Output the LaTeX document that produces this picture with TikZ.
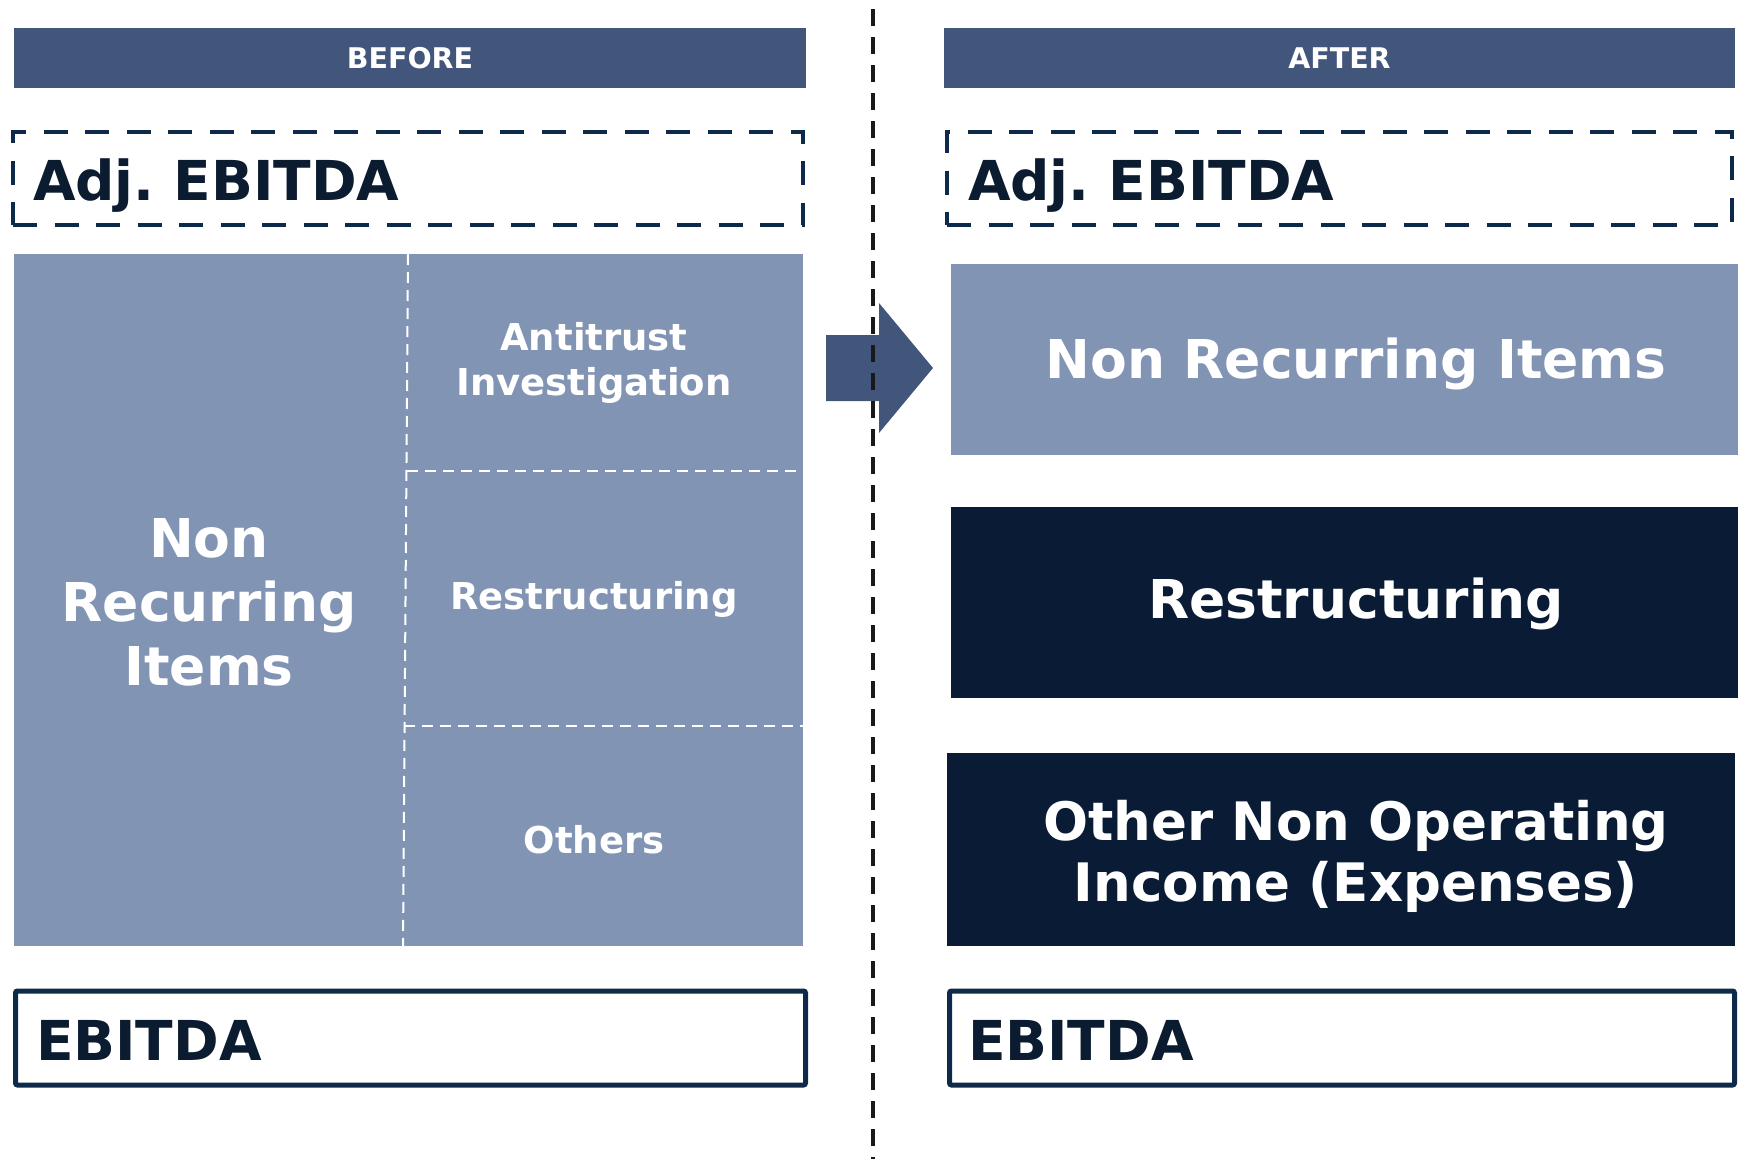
\documentclass[tikz,border=0pt]{standalone}
\usepackage{fontspec}
\setmainfont{DejaVu Sans}
\frenchspacing
\definecolor{hdr}{HTML}{42557A}
\definecolor{pale}{HTML}{8194B4}
\definecolor{navy}{HTML}{0A1C35}
\definecolor{rule}{HTML}{0E2A4B}
\definecolor{ink}{HTML}{0B1B30}
\begin{document}
\begin{tikzpicture}[x=1pt,y=-1pt,
  every node/.style={inner sep=0pt, outer sep=0pt},
  bar/.style={fill=hdr, text=white, anchor=north west,
    font=\fontsize{28.5}{32}\selectfont\bfseries},
  adjbox/.style={draw=rule, line width=4.8pt, dash pattern=on 24pt off 17.5pt,
    anchor=north west},
  totbox/.style={draw=rule, line width=5pt, rounded corners=2pt, anchor=north west},
  paleblock/.style={fill=pale, anchor=north west},
  darkblock/.style={fill=navy, anchor=north west},
  bigtxt/.style={text=white, align=center, font=\fontsize{53.5}{64}\selectfont\bfseries},
  smalltxt/.style={text=white, align=center, font=\fontsize{37}{45}\selectfont\bfseries},
  boxtxt/.style={text=ink, anchor=base west, font=\fontsize{55}{60}\selectfont\bfseries},
  cellrule/.style={draw=white, line width=2pt, dash pattern=on 11pt off 7pt},
  divider/.style={draw=black!90, line width=4pt, dash pattern=on 17pt off 11pt},
]
\useasboundingbox (0,0) rectangle (1741,1159);

% column headers
\node[bar, minimum width=792pt, minimum height=60pt] (hdrL) at (14,28) {BEFORE};
\node[bar, minimum width=791pt, minimum height=60pt] (hdrR) at (944,28) {AFTER};

% Adj. EBITDA (dashed frames)
\node[adjbox, minimum width=790pt, minimum height=93pt] (adjL) at (13,132) {};
\node[adjbox, minimum width=785pt, minimum height=93pt] (adjR) at (947,132) {};
\node[boxtxt] (adjLt) at (33,200) {Adj. EBITDA};
\node[boxtxt] (adjRt) at (968,200) {Adj. EBITDA};

% before: one block split into cells
\node[paleblock, minimum width=789pt, minimum height=692pt] (blockL) at (14,254) {};
\coordinate (splitTop) at (408,254);
\coordinate (splitBot) at (403,946);
\coordinate (rowA) at (407,471);
\coordinate (rowAe) at (803,471);
\coordinate (rowB) at (404,726);
\coordinate (rowBe) at (803,726);
\draw[cellrule] (splitTop) -- (splitBot);
\draw[cellrule] (rowA) -- (rowAe);
\draw[cellrule] (rowB) -- (rowBe);
\node[bigtxt] (nriL) at (209,602) {Non\\Recurring\\Items};
\node[smalltxt] (antiL) at (594,363) {Antitrust\\Investigation};
\node[smalltxt] (restL) at (594,599) {Restructuring};
\node[smalltxt] (othL) at (594,840) {Others};

% transition arrow
\fill[hdr] (826,335) -- (879,335) -- (879,303) -- (933,368) -- (879,433)
  -- (879,401) -- (826,401) -- cycle;

% after: separate blocks
\node[paleblock, minimum width=787pt, minimum height=191pt] (nriR) at (951,264) {};
\node[bigtxt] (nriRt) at (1356,364) {Non Recurring Items};
\node[darkblock, minimum width=787pt, minimum height=191pt] (restR) at (951,507) {};
\node[bigtxt] (restRt) at (1356,604) {Restructuring};
\node[darkblock, minimum width=788pt, minimum height=193pt] (othR) at (947,753) {};
\node[bigtxt, font=\fontsize{53}{61}\selectfont\bfseries] (othRt) at (1356,856)
  {Other Non Operating\\Income (Expenses)};

% EBITDA (solid frames)
\node[totbox, minimum width=790pt, minimum height=94pt] (ebL) at (15.5,991) {};
\node[totbox, minimum width=785pt, minimum height=94pt] (ebR) at (949.5,991) {};
\node[boxtxt] (ebLt) at (36,1060) {EBITDA};
\node[boxtxt] (ebRt) at (968,1060) {EBITDA};

% before / after separator
\coordinate (sepTop) at (873,9);
\coordinate (sepBot) at (873,1159);
\draw[divider] (sepTop) -- (sepBot);
\end{tikzpicture}
\end{document}
